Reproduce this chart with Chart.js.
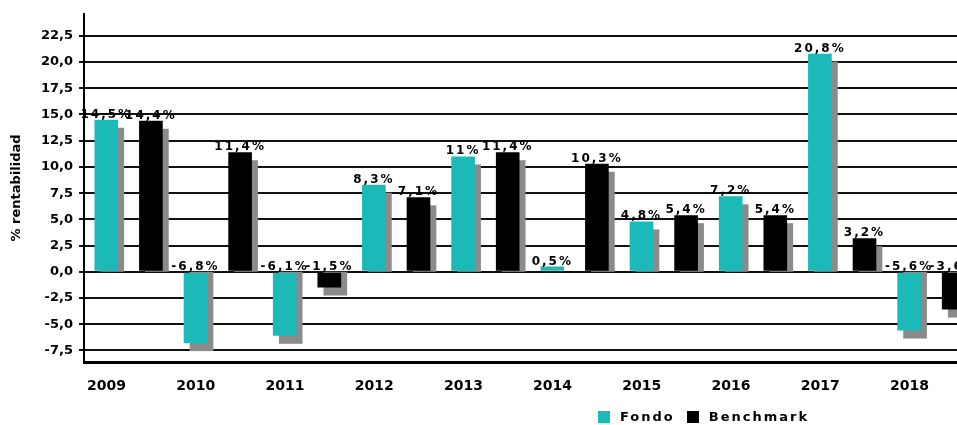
<!DOCTYPE html>
<html>
<head>
<meta charset="utf-8">
<script src="https://cdn.jsdelivr.net/npm/chart.js@4.4.1/dist/chart.umd.min.js"></script>
<style>
  html, body { margin: 0; padding: 0; background: #fff; overflow: hidden; }
  #wrap { position: relative; width: 984px; height: 425px; }
  #legend {
    position: absolute; left: 598px; top: 410px;
    display: flex; align-items: center;
    font: bold 13px "DejaVu Sans", Verdana, sans-serif;
    letter-spacing: 2px; line-height: 14px; color: #000;
  }
  #legend .sw { display: inline-block; width: 12px; height: 12px; margin-right: 10px; }
  #legend .item { display: flex; align-items: center; margin-right: 12px; }
</style>
</head>
<body>
<div id="wrap">
  <canvas id="chart1"></canvas>
  <div id="legend"></div>
</div>
<script>
// Data
const years = ['2009', '2010', '2011', '2012', '2013', '2014', '2015', '2016', '2017', '2018'];
const fondo = [14.5, -6.8, -6.1, 8.3, 11, 0.5, 4.8, 7.2, 20.8, -5.6];
const benchmark = [14.4, 11.4, -1.5, 7.1, 11.4, 10.3, 5.4, 5.4, 3.2, -3.6];
const yTicks = [-7.5, -5, -2.5, 0, 2.5, 5, 7.5, 10, 12.5, 15, 17.5, 20, 22.5];

const FONT = '"DejaVu Sans", Verdana, sans-serif';
const fmt = v => String(v).replace('.', ',');

// grey 3d shadows behind the bars, value labels on top
const decor = {
  id: 'decor',
  beforeDatasetsDraw(chart) {
    const { ctx, scales: { y } } = chart;
    const zero = y.getPixelForValue(0);
    ctx.save();
    ctx.fillStyle = '#8b8b8b';
    chart.data.datasets.forEach((ds, i) => {
      chart.getDatasetMeta(i).data.forEach(bar => {
        const x0 = bar.x - bar.width / 2 + 6;
        let y1, y2;
        if (bar.y < zero) { y1 = bar.y + 8; y2 = zero; }
        else { y1 = zero; y2 = bar.y + 8; }
        if (y2 > y1) ctx.fillRect(x0, y1, bar.width, y2 - y1);
      });
    });
    ctx.restore();
  },
  afterDatasetsDraw(chart) {
    const { ctx, scales: { y } } = chart;
    const zero = y.getPixelForValue(0);
    ctx.save();
    ctx.letterSpacing = '2px';
    ctx.font = 'bold 12px ' + FONT;
    ctx.fillStyle = '#000';
    ctx.textAlign = 'center';
    ctx.textBaseline = 'alphabetic';
    chart.data.datasets.forEach((ds, i) => {
      chart.getDatasetMeta(i).data.forEach((bar, j) => {
        const v = ds.data[j];
        const py = v >= 0 ? bar.y : zero;
        ctx.fillText(fmt(v) + '%', bar.x, py - 2);
      });
    });
    ctx.restore();
  }
};

const ctx = document.getElementById('chart1').getContext('2d');
const chart = new Chart(ctx, {
  type: 'bar',
  data: {
    labels: years,
    datasets: [
      {
        label: 'Fondo',
        data: fondo,
        backgroundColor: '#1bb9b7',
        barPercentage: 0.53,
        categoryPercentage: 1
      },
      {
        label: 'Benchmark',
        data: benchmark,
        backgroundColor: '#000000',
        barPercentage: 0.53,
        categoryPercentage: 1
      }
    ]
  },
  options: {
    responsive: true,
    maintainAspectRatio: false,
    animation: false,
    layout: { padding: { top: 12, right: 8, left: 0, bottom: 33 } },
    plugins: {
      legend: { display: false },
      tooltip: { enabled: false }
    },
    scales: {
      x: {
        grid: { display: false },
        border: { color: '#000', width: 3 },
        ticks: {
          color: '#000',
          padding: 8,
          labelOffset: -22,
          font: { family: FONT, size: 14, weight: 'bold' }
        },
        afterFit(scale) { scale.height = 30; }
      },
      y: {
        min: -8.6,
        max: 24.6,
        afterBuildTicks(scale) { scale.ticks = yTicks.map(v => ({ value: v })); },
        afterFit(scale) { scale.width = 84; },
        grid: { color: '#111', lineWidth: 2, tickLength: 5 },
        border: { color: '#000', width: 2 },
        ticks: {
          color: '#000',
          padding: 6,
          font: { family: FONT, size: 13, weight: 'bold' },
          callback: v => v.toFixed(1).replace('.', ',')
        },
        title: {
          display: true,
          text: '% rentabilidad',
          color: '#000',
          padding: { top: 9, bottom: 0 },
          font: { family: FONT, size: 13, weight: 'bold' }
        }
      }
    }
  },
  plugins: [decor]
});

// legend as page text, built from the datasets
const legend = document.getElementById('legend');
chart.data.datasets.forEach(ds => {
  const item = document.createElement('span');
  item.className = 'item';
  const sw = document.createElement('span');
  sw.className = 'sw';
  sw.style.background = ds.backgroundColor;
  item.appendChild(sw);
  item.appendChild(document.createTextNode(ds.label));
  legend.appendChild(item);
});
</script>
</body>
</html>
